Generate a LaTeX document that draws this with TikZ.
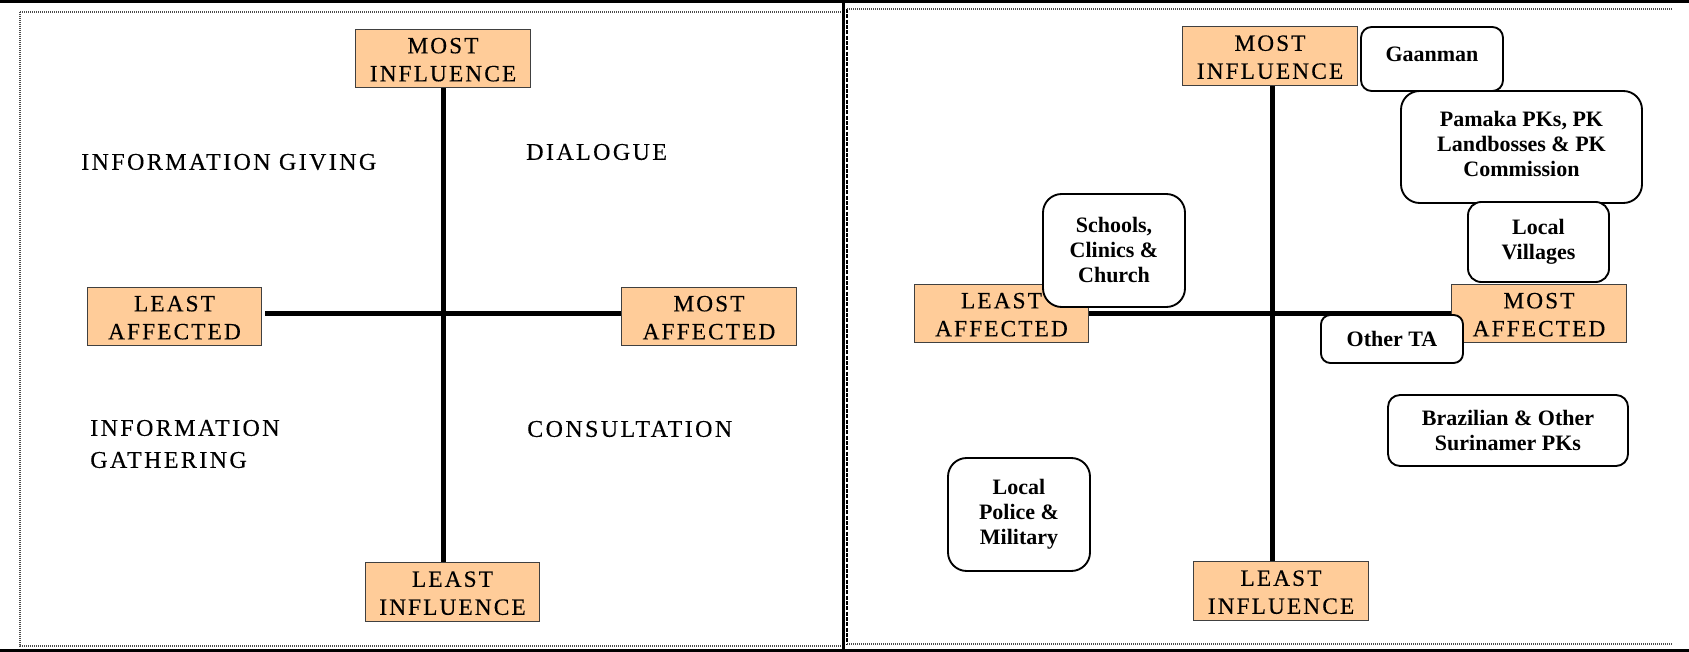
\documentclass[tikz,border=0pt]{standalone}
\usepackage{fontspec}
\setmainfont{Liberation Serif}
\newfontfamily\spacedfont[LetterSpace=9,FakeBold=0.3]{Liberation Serif}
\newfontfamily\quadfont[LetterSpace=10,FakeBold=0.3]{Liberation Serif}
\definecolor{peach}{HTML}{FFCC99}
\newcommand\boxlines[1]{\raisebox{0pt}[\dimexpr\height+2.4pt\relax][\dimexpr\depth-2.4pt\relax]{\begin{tabular}{@{}c@{}}#1\end{tabular}}}
\tikzset{
  orangebox/.style={draw=black!75, fill=peach, line width=0.8pt, inner sep=0pt,
    minimum width=131pt, minimum height=44pt,
    font=\spacedfont\fontsize{17.5}{21}\selectfont},
  quadlabel/.style={inner sep=0pt, align=left, anchor=west,
    font=\quadfont\fontsize{18}{24}\selectfont},
  axisline/.style={line width=3.75pt, black},
  stakebox/.style={draw=black, fill=white, line width=1.4pt, inner sep=0pt,
    align=center, font=\bfseries\fontsize{16.5}{18.75}\selectfont},
  panelborder/.style={line width=0.8pt, black!70, dash pattern=on 0.8pt off 0.7pt}
}
\begin{document}
\begin{tikzpicture}[x=0.75pt,y=-0.75pt]
\useasboundingbox (0,0) rectangle (1689,652);
% frame bars
\fill[black] (0,0) rectangle (1689,3);
\fill[black] (0,649) rectangle (1689,652);
% left panel border
\draw[panelborder] (20,12) -- (843,12);
\draw[panelborder] (20,12) -- (20,646) -- (843,646);
% divider
\draw[black, line width=1.6pt] (843.5,3) -- (843.5,649);
\draw[black, line width=0.9pt, dash pattern=on 3pt off 1pt] (847,9) -- (847,644);
% right panel border
\draw[panelborder] (847,9) -- (1672,9);
\draw[panelborder] (847,644) -- (1672,644);

% ---------- left panel ----------
\node[orangebox] (lmi) at (443,58.5) {\boxlines{MOST\\INFLUENCE}};
\node[orangebox] (lli) at (452.5,592) {\boxlines{LEAST\\INFLUENCE}};
\node[orangebox] (lla) at (174.5,316.5) {\boxlines{LEAST\\AFFECTED}};
\node[orangebox] (lma) at (709,316.5) {\boxlines{MOST\\AFFECTED}};
\draw[axisline] (lmi.south) -- (lmi.south |- lli.north);
\draw[axisline] ([xshift=2pt,yshift=2.6pt]lla.east) -- ([yshift=2.6pt]lma.west);
\node[quadlabel] (giving) at (81,162) {INFORMATION GIVING};
\node[quadlabel] (dialogue) at (526,152) {DIALOGUE};
\node[quadlabel] (gathering) at (90,444) {INFORMATION\\GATHERING};
\node[quadlabel] (consult) at (527,429) {CONSULTATION};

% ---------- right panel ----------
\node[orangebox] (rmi) at (1270,56) {\boxlines{MOST\\INFLUENCE}};
\node[orangebox] (rli) at (1281,591) {\boxlines{LEAST\\INFLUENCE}};
\node[orangebox] (rla) at (1001.5,313.5) {\boxlines{LEAST\\AFFECTED}};
\node[orangebox] (rma) at (1539,313.5) {\boxlines{MOST\\AFFECTED}};
\draw[axisline] ([xshift=2pt]rmi.south) -- ([xshift=2pt]rmi.south |- rli.north);
\draw[axisline] (rla.east) -- (rma.west);

\node[stakebox, minimum width=106.5pt, minimum height=48pt, rounded corners=8pt,
  text depth=7pt] (gaanman) at (1432,59) {Gaanman};
\node[stakebox, minimum width=180.75pt, minimum height=84pt, rounded corners=14pt,
  text depth=5pt] (pamaka) at (1521.5,147) {Pamaka PKs, PK\\Landbosses \& PK\\Commission};
\node[stakebox, minimum width=105.75pt, minimum height=60pt, rounded corners=10pt]
  (villages) at (1538.5,242) {Local\\Villages};
\node[stakebox, minimum width=106.5pt, minimum height=36pt, rounded corners=7pt]
  (otherta) at (1392,339) {Other TA};
\node[stakebox, minimum width=180pt, minimum height=53.25pt, rounded corners=9pt]
  (brazil) at (1508,430.5) {Brazilian \& Other\\Surinamer PKs};
\node[stakebox, minimum width=106.5pt, minimum height=84.75pt, rounded corners=14pt]
  (schools) at (1114,250.5) {Schools,\\Clinics \&\\Church};
\node[stakebox, minimum width=106.5pt, minimum height=84.75pt, rounded corners=14pt]
  (police) at (1019,514.5) {Local\\Police \&\\Military};
\end{tikzpicture}
\end{document}
